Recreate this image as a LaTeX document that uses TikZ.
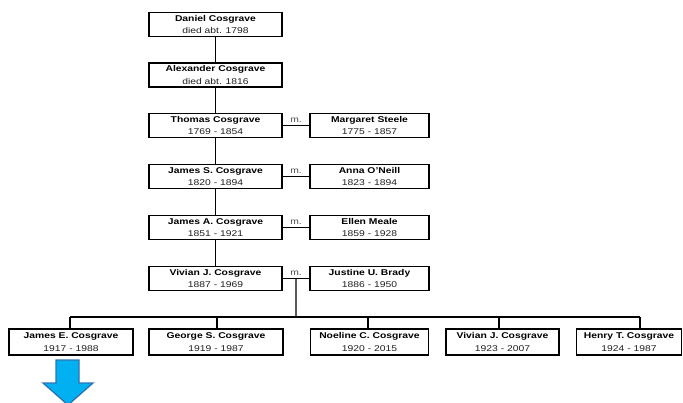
\documentclass[tikz,border=0pt]{standalone}
\usepackage{fontspec}
\setmainfont{Liberation Sans}[FakeStretch=1.23]
\usetikzlibrary{calc}
\definecolor{arrowfill}{HTML}{00B0F0}
\definecolor{arrowline}{HTML}{2E75B6}
\begin{document}
\begin{tikzpicture}[x=1pt,y=-1pt,
  person/.style={draw=black, line width=1.4pt, minimum height=24pt, inner sep=0pt,
    align=center, font=\fontsize{8.4}{12.5}\selectfont},
  conn/.style={line width=1.2pt},
  mlabel/.style={font=\fontsize{8.4}{10}\selectfont, text=black!70, inner sep=0pt, anchor=base}]
\useasboundingbox (0,0) rectangle (683,402);
\clip (0,0) rectangle (683,402);
\newcommand{\pp}[2]{\textbf{#1}\\\textcolor{black!88}{#2}}
% main line
\node[person, minimum width=133pt] (daniel) at (215.5,24.5) {\pp{Daniel Cosgrave}{died abt. 1798}};
\node[person, minimum width=133pt] (alex) at (215.5,75) {\pp{Alexander Cosgrave}{died abt. 1816}};
\node[person, minimum width=133pt] (thomas) at (215.5,125.5) {\pp{Thomas Cosgrave}{1769 - 1854}};
\node[person, minimum width=133pt] (jamess) at (215.5,176.5) {\pp{James S. Cosgrave}{1820 - 1894}};
\node[person, minimum width=133pt] (jamesa) at (215.5,227.5) {\pp{James A. Cosgrave}{1851 - 1921}};
\node[person, minimum width=133pt] (vivian) at (215.5,278.5) {\pp{Vivian J. Cosgrave}{1887 - 1969}};
% spouses
\node[person, minimum width=119pt] (margaret) at (369.5,125.5) {\pp{Margaret Steele}{1775 - 1857}};
\node[person, minimum width=119pt] (anna) at (369.5,176.5) {\pp{Anna O'Neill}{1823 - 1894}};
\node[person, minimum width=119pt] (ellen) at (369.5,227.5) {\pp{Ellen Meale}{1859 - 1928}};
\node[person, minimum width=119pt] (justine) at (369.5,278.5) {\pp{Justine U. Brady}{1886 - 1950}};
% children
\node[person, minimum width=124pt, minimum height=26pt] (c1) at (71,342) {\pp{James E. Cosgrave}{1917 - 1988}};
\node[person, minimum width=134pt, minimum height=26pt] (c2) at (216,342) {\pp{George S. Cosgrave}{1919 - 1987}};
\node[person, minimum width=118pt, minimum height=26pt] (c3) at (369.5,342) {\pp{Noeline C. Cosgrave}{1920 - 2015}};
\node[person, minimum width=113pt, minimum height=26pt] (c4) at (502.5,342) {\pp{Vivian J. Cosgrave}{1923 - 2007}};
\node[person, minimum width=105pt, minimum height=26pt] (c5) at (629,342) {\pp{Henry T. Cosgrave}{1924 - 1987}};
% descent line
\draw[conn] (daniel) -- (alex);
\draw[conn] (alex) -- (thomas);
\draw[conn] (thomas) -- (jamess);
\draw[conn] (jamess) -- (jamesa);
\draw[conn] (jamesa) -- (vivian);
% marriages
\foreach \a/\b in {thomas/margaret, jamess/anna, jamesa/ellen, vivian/justine}{
  \draw[conn] (\a.east) -- (\b.west);
  \node[mlabel] (m-\a) at ($(\a.east)!0.5!(\b.west)+(0,-3.5)$) {m.};
}
% children bar
\coordinate (mv) at ($(vivian.east)!0.5!(justine.west)$);
\coordinate (bar) at (296,317);
\coordinate (d1) at (70,317);
\coordinate (d2) at (217,317);
\coordinate (d3) at (368,317);
\coordinate (d4) at (499,317);
\coordinate (d5) at (640,317);
\draw[conn] (mv) -- (bar);
\draw[conn] (d1) -- (d5);
\foreach \i in {1,...,5}{\draw[conn] (d\i) -- (d\i |- c\i.north);}
% blue arrow
\draw[arrowline, fill=arrowfill, line width=1.3pt, line join=miter]
  (56,360) -- (79,360) -- (79,383) -- (93,383) -- (68,405) -- (43,383) -- (56,383) -- cycle;
\end{tikzpicture}
\end{document}
